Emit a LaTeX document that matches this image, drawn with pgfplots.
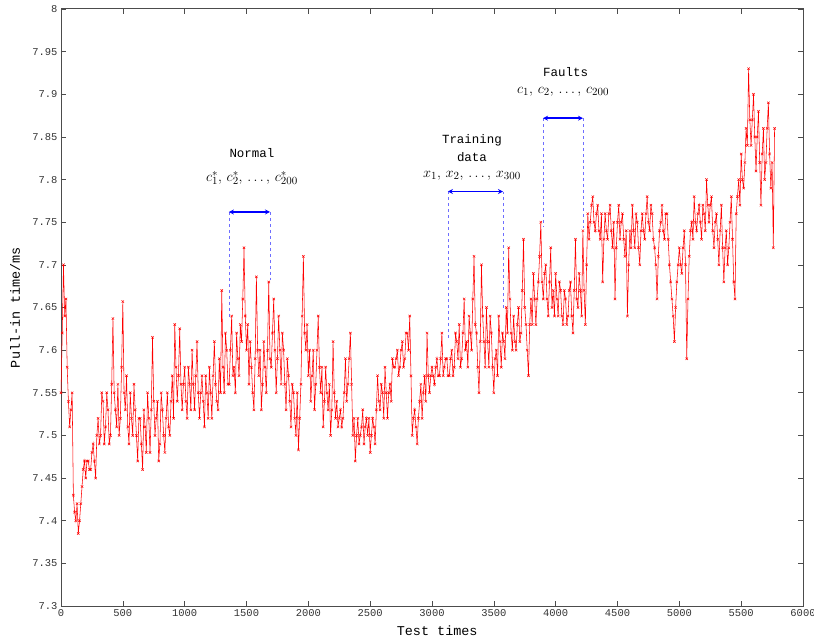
\documentclass[border=0pt]{standalone}
\usepackage{pgfplots}
\pgfplotsset{compat=1.18}
\usepackage{fontspec}
\setmainfont{Liberation Serif}
\setmonofont{Liberation Mono}
\usetikzlibrary{arrows.meta}
\definecolor{dashblue}{RGB}{110,110,255}
\begin{document}
\begin{tikzpicture}
\begin{axis}[
  scale only axis,
  width=742bp, height=597bp,
  xmin=0, xmax=6000, ymin=7.3, ymax=8,
  xtick={0,500,...,6000},
  ytick={7.3,7.35,7.4,7.45,7.5,7.55,7.6,7.65,7.7,7.75,7.8,7.85,7.9,7.95,8},
  yticklabels={7.3,7.35,7.4,7.45,7.5,7.55,7.6,7.65,7.7,7.75,7.8,7.85,7.9,7.95,8},
  xticklabels={0,500,1000,1500,2000,2500,3000,3500,4000,4500,5000,5500,6000},
  tick align=inside,
  major tick length=5bp,
  tick style={black!70, line width=0.6pt},
  axis line style={black!70, line width=1pt},
  ticklabel style={font=\ttfamily\fontsize{10.5}{11}\selectfont, text=black!80},
  /pgf/number format/assume math mode=true,
  xlabel={Test times},
  ylabel={Pull-in time/ms},
  every axis x label/.style={at={(axis description cs:0.507,-0.042)}, anchor=center, font=\ttfamily\fontsize{13.5}{14}\selectfont},
  every axis y label/.style={at={(axis description cs:-0.062,0.5)}, rotate=90, anchor=center, font=\ttfamily\fontsize{13.5}{14}\selectfont},
  clip=true,
]
\coordinate (bl) at (rel axis cs:0,0);
\coordinate (tr) at (rel axis cs:1,1);
\addplot[red, line width=0.55pt, mark=x, mark size=1.7pt, mark options={line width=0.5pt}] table {
x y
0 7.55
10 7.62
20 7.70
30 7.64
40 7.66
50 7.58
60 7.54
70 7.51
80 7.53
90 7.55
100 7.43
110 7.41
120 7.40
130 7.42
140 7.385
150 7.40
160 7.42
170 7.44
180 7.46
190 7.47
200 7.45
210 7.47
220 7.47
230 7.46
240 7.46
250 7.48
260 7.49
270 7.47
280 7.45
290 7.50
300 7.52
310 7.49
320 7.50
330 7.55
340 7.54
350 7.49
360 7.51
370 7.55
380 7.53
390 7.49
400 7.50
410 7.56
420 7.637
430 7.55
440 7.53
450 7.51
460 7.56
470 7.50
480 7.52
490 7.58
500 7.657
510 7.55
520 7.53
530 7.57
540 7.51
550 7.49
560 7.55
570 7.52
580 7.50
590 7.56
600 7.53
610 7.50
620 7.47
630 7.52
640 7.52
650 7.49
660 7.46
670 7.53
680 7.51
690 7.48
700 7.55
710 7.52
720 7.48
730 7.53
740 7.615
750 7.54
760 7.50
770 7.52
780 7.54
790 7.47
800 7.49
810 7.55
820 7.53
830 7.50
840 7.48
850 7.52
860 7.55
870 7.51
880 7.50
890 7.54
900 7.57
910 7.52
920 7.63
930 7.58
940 7.54
950 7.57
960 7.625
970 7.56
980 7.53
990 7.56
1000 7.58
1010 7.54
1020 7.52
1030 7.58
1040 7.56
1050 7.53
1060 7.60
1070 7.56
1080 7.53
1090 7.57
1100 7.61
1110 7.55
1120 7.52
1130 7.55
1140 7.57
1150 7.54
1160 7.51
1170 7.57
1180 7.55
1190 7.52
1200 7.58
1210 7.55
1220 7.52
1230 7.57
1240 7.61
1250 7.56
1260 7.54
1270 7.53
1280 7.59
1290 7.55
1300 7.67
1310 7.58
1320 7.55
1330 7.62
1340 7.60
1350 7.56
1360 7.56
1370 7.60
1380 7.64
1390 7.57
1400 7.58
1410 7.55
1420 7.62
1430 7.59
1440 7.57
1450 7.63
1460 7.61
1470 7.66
1480 7.72
1490 7.64
1500 7.60
1510 7.63
1520 7.56
1530 7.61
1540 7.58
1550 7.55
1560 7.53
1570 7.59
1580 7.686
1590 7.60
1600 7.57
1610 7.60
1620 7.53
1630 7.56
1640 7.61
1650 7.58
1660 7.55
1670 7.60
1680 7.68
1690 7.59
1700 7.58
1710 7.62
1720 7.66
1730 7.60
1740 7.55
1750 7.59
1760 7.64
1770 7.60
1780 7.56
1790 7.62
1800 7.60
1810 7.56
1820 7.53
1830 7.59
1840 7.57
1850 7.54
1860 7.51
1870 7.56
1880 7.55
1890 7.52
1900 7.50
1910 7.55
1920 7.483
1930 7.52
1940 7.56
1950 7.64
1960 7.71
1970 7.62
1980 7.60
1990 7.63
2000 7.57
2010 7.60
2020 7.54
2030 7.57
2040 7.60
2050 7.53
2060 7.56
2070 7.60
2080 7.64
2090 7.58
2100 7.55
2110 7.58
2120 7.51
2130 7.54
2140 7.58
2150 7.55
2160 7.53
2170 7.56
2180 7.50
2190 7.53
2200 7.61
2210 7.55
2220 7.52
2230 7.54
2240 7.51
2250 7.52
2260 7.53
2270 7.51
2280 7.52
2290 7.55
2300 7.59
2310 7.54
2320 7.56
2330 7.59
2340 7.62
2350 7.56
2360 7.50
2370 7.52
2380 7.47
2390 7.50
2400 7.52
2410 7.49
2420 7.50
2430 7.51
2440 7.53
2450 7.49
2460 7.51
2470 7.52
2480 7.50
2490 7.52
2500 7.48
2510 7.50
2520 7.52
2530 7.51
2540 7.49
2550 7.53
2560 7.57
2570 7.54
2580 7.53
2590 7.56
2600 7.55
2610 7.52
2620 7.58
2630 7.55
2640 7.52
2650 7.55
2660 7.56
2670 7.54
2680 7.59
2690 7.58
2700 7.58
2710 7.59
2720 7.60
2730 7.57
2740 7.58
2750 7.60
2760 7.61
2770 7.58
2780 7.59
2790 7.62
2800 7.62
2810 7.60
2820 7.64
2830 7.57
2840 7.50
2850 7.52
2860 7.53
2870 7.51
2880 7.49
2890 7.52
2900 7.54
2910 7.56
2920 7.52
2930 7.55
2940 7.57
2950 7.54
2960 7.62
2970 7.57
2980 7.55
2990 7.57
3000 7.58
3010 7.57
3020 7.56
3030 7.58
3040 7.59
3050 7.57
3060 7.57
3070 7.59
3080 7.62
3090 7.57
3100 7.58
3110 7.59
3120 7.59
3130 7.57
3140 7.57
3150 7.59
3160 7.60
3170 7.57
3180 7.58
3190 7.62
3200 7.61
3210 7.59
3220 7.63
3230 7.58
3240 7.59
3250 7.62
3260 7.66
3270 7.60
3280 7.61
3290 7.58
3300 7.64
3310 7.62
3320 7.60
3330 7.66
3340 7.71
3350 7.63
3360 7.62
3370 7.58
3380 7.55
3390 7.61
3400 7.70
3410 7.64
3420 7.61
3430 7.58
3440 7.65
3450 7.61
3460 7.58
3470 7.64
3480 7.62
3490 7.58
3500 7.55
3510 7.59
3520 7.60
3530 7.57
3540 7.64
3550 7.61
3560 7.58
3570 7.62
3580 7.61
3590 7.59
3600 7.65
3610 7.62
3620 7.72
3630 7.66
3640 7.62
3650 7.60
3660 7.64
3670 7.61
3680 7.60
3690 7.63
3700 7.65
3710 7.61
3720 7.62
3730 7.67
3740 7.73
3750 7.65
3760 7.63
3770 7.60
3780 7.57
3790 7.63
3800 7.66
3810 7.63
3820 7.69
3830 7.66
3840 7.63
3850 7.66
3860 7.68
3870 7.71
3880 7.75
3890 7.68
3900 7.66
3910 7.69
3920 7.70
3930 7.66
3940 7.64
3950 7.68
3960 7.72
3970 7.65
3980 7.67
3990 7.64
4000 7.69
4010 7.66
4020 7.64
4030 7.68
4040 7.67
4050 7.64
4060 7.63
4070 7.67
4080 7.66
4090 7.63
4100 7.64
4110 7.67
4120 7.68
4130 7.64
4140 7.62
4150 7.67
4160 7.73
4170 7.66
4180 7.65
4190 7.69
4200 7.67
4210 7.64
4220 7.74
4230 7.67
4240 7.63
4250 7.70
4260 7.76
4270 7.73
4280 7.75
4290 7.77
4300 7.78
4310 7.75
4320 7.74
4330 7.76
4340 7.77
4350 7.74
4360 7.73
4370 7.76
4380 7.68
4390 7.73
4400 7.76
4410 7.74
4420 7.73
4430 7.76
4440 7.77
4450 7.74
4460 7.72
4470 7.75
4480 7.66
4490 7.72
4500 7.75
4510 7.77
4520 7.73
4530 7.75
4540 7.76
4550 7.73
4560 7.71
4570 7.74
4580 7.64
4590 7.70
4600 7.74
4610 7.72
4620 7.77
4630 7.74
4640 7.72
4650 7.76
4660 7.75
4670 7.72
4680 7.70
4690 7.74
4700 7.76
4710 7.74
4720 7.73
4730 7.76
4740 7.78
4750 7.75
4760 7.74
4770 7.77
4780 7.76
4790 7.73
4800 7.72
4810 7.70
4820 7.66
4830 7.71
4840 7.74
4850 7.75
4860 7.77
4870 7.74
4880 7.73
4890 7.76
4900 7.76
4910 7.73
4920 7.70
4930 7.68
4940 7.66
4950 7.64
4960 7.61
4970 7.65
4980 7.68
4990 7.70
5000 7.72
5010 7.70
5020 7.69
5030 7.72
5040 7.74
5050 7.70
5060 7.59
5070 7.66
5080 7.71
5090 7.74
5100 7.75
5110 7.73
5120 7.78
5130 7.75
5140 7.74
5150 7.76
5160 7.77
5170 7.75
5180 7.73
5190 7.77
5200 7.76
5210 7.74
5220 7.80
5230 7.77
5240 7.75
5250 7.77
5260 7.78
5270 7.74
5280 7.72
5290 7.75
5300 7.76
5310 7.73
5320 7.70
5330 7.74
5340 7.77
5350 7.72
5360 7.68
5370 7.72
5380 7.74
5390 7.70
5400 7.72
5410 7.75
5420 7.78
5430 7.73
5440 7.68
5450 7.66
5460 7.76
5470 7.78
5480 7.80
5490 7.77
5500 7.83
5510 7.80
5520 7.79
5530 7.82
5540 7.86
5550 7.84
5560 7.93
5570 7.87
5580 7.84
5590 7.87
5600 7.90
5610 7.85
5620 7.81
5630 7.85
5640 7.88
5650 7.82
5660 7.77
5670 7.83
5680 7.86
5690 7.80
5700 7.82
5710 7.86
5720 7.89
5730 7.83
5740 7.79
5750 7.82
5760 7.72
5770 7.86
};
% Normal
\draw[dashblue, dashed, line width=0.6pt] (axis cs:1358,7.762) -- (axis cs:1358,7.637);
\draw[dashblue, dashed, line width=0.6pt] (axis cs:1690,7.762) -- (axis cs:1690,7.682);
\draw[blue, line width=1.4pt, {Stealth[length=5pt,width=5pt]}-{Stealth[length=5pt,width=5pt]}] (axis cs:1358,7.762) -- (axis cs:1690,7.762);
\node[font=\ttfamily\fontsize{12.5}{13}\selectfont] at (axis cs:1544,7.831) {Normal};
\node[font=\fontsize{15}{16}\selectfont] at (axis cs:1544,7.802) {$c_1^*,\,c_2^*,\,\ldots,\,c_{200}^*$};
% Training
\draw[dashblue, dashed, line width=0.6pt] (axis cs:3129,7.786) -- (axis cs:3129,7.612);
\draw[dashblue, dashed, line width=0.6pt] (axis cs:3574,7.786) -- (axis cs:3574,7.647);
\draw[blue, line width=1.4pt, {Stealth[length=5pt,width=5pt]}-{Stealth[length=5pt,width=5pt]}] (axis cs:3129,7.786) -- (axis cs:3574,7.786);
\node[font=\ttfamily\fontsize{12.5}{13}\selectfont] at (axis cs:3323,7.846) {Training};
\node[font=\ttfamily\fontsize{12.5}{13}\selectfont] at (axis cs:3323,7.826) {data};
\node[font=\fontsize{15}{16}\selectfont] at (axis cs:3323,7.805) {$x_1,\,x_2,\,\ldots,\,x_{300}$};
% Faults
\draw[dashblue, dashed, line width=0.6pt] (axis cs:3898,7.872) -- (axis cs:3898,7.744);
\draw[dashblue, dashed, line width=0.6pt] (axis cs:4221,7.872) -- (axis cs:4221,7.743);
\draw[blue, line width=1.4pt, {Stealth[length=5pt,width=5pt]}-{Stealth[length=5pt,width=5pt]}] (axis cs:3898,7.872) -- (axis cs:4221,7.872);
\node[font=\ttfamily\fontsize{12.5}{13}\selectfont] at (axis cs:4080,7.926) {Faults};
\node[font=\fontsize{15}{16}\selectfont] at (axis cs:4060,7.903) {$c_1,\,c_2,\,\ldots,\,c_{200}$};
\end{axis}
\pgfresetboundingbox
\path[use as bounding box] ([shift={(-61bp,-33bp)}]bl) rectangle ([shift={(11bp,9bp)}]tr);
\end{tikzpicture}
\end{document}
